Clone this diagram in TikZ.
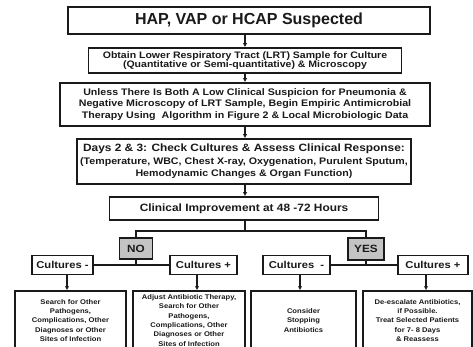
\documentclass[tikz,border=0pt]{standalone}
\usepackage{fontspec}
\setmainfont{Liberation Sans}
\newfontfamily\wfont[FakeStretch=1.12]{Liberation Sans}
\usetikzlibrary{arrows.meta}
\definecolor{ink}{HTML}{1A1A1A}
\definecolor{graybox}{HTML}{C4C4C4}
\tikzset{
  x=1pt,y=-1pt,
  box/.style={draw=ink,line width=1.7pt,fill=white,inner sep=1pt,align=center,text=ink,font=\bfseries},
  smallbox/.style={box,line width=1.5pt},
  conn/.style={draw=ink,line width=1.1pt},
  arr/.style={conn,-{Latex[length=4pt,width=4.5pt]}},
}
\begin{document}
\begin{tikzpicture}
\useasboundingbox (0,0) rectangle (473,347);
\clip (0,0) rectangle (473,347);
% main chain
\node[box,minimum width=362pt,minimum height=27pt,font=\bfseries\fontsize{16}{18}\selectfont] (b1) at (249,20.5) {HAP, VAP or HCAP Suspected};
\node[box,minimum width=313pt,minimum height=25pt,font=\wfont\bfseries\fontsize{9.4}{9.4}\selectfont] (b2) at (245,60.5) {Obtain Lower Respiratory Tract (LRT) Sample for Culture\\(Quantitative or Semi-quantitative) \& Microscopy};
\node[box,minimum width=370pt,minimum height=43pt,font=\wfont\bfseries\fontsize{9.5}{11.5}\selectfont] (b3) at (245,104.5) {Unless There Is Both A Low Clinical Suspicion for Pneumonia \&\\Negative Microscopy of LRT Sample, Begin Empiric Antimicrobial\\Therapy Using\ \ Algorithm in Figure 2 \& Local Microbiologic Data};
\node[box,minimum width=334pt,minimum height=45pt,font=\wfont\bfseries\fontsize{9.5}{12}\selectfont] (b4) at (244,161.5) {{\fontsize{10.6}{13}\selectfont Days 2 \& 3: Check Cultures \& Assess Clinical Response:}\\[1pt](Temperature, WBC, Chest X-ray, Oxygenation, Purulent Sputum,\\Hemodynamic Changes \& Organ Function)};
\node[box,minimum width=269pt,minimum height=23pt,font=\wfont\bfseries\fontsize{10.6}{13}\selectfont] (b5) at (244,208.5) {Clinical Improvement at 48 -72 Hours};
\draw[arr] (b1.south -| 245,0) -- (b2.north -| 245,0);
\draw[arr] (b2.south -| 245,0) -- (b3.north -| 245,0);
\draw[arr] (b3.south -| 245,0) -- (b4.north -| 245,0);
\draw[arr] (b4.south -| 245,0) -- (b5.north -| 245,0);
% NO / YES
\node[smallbox,fill=graybox,minimum width=33pt,minimum height=21pt,font=\wfont\bfseries\fontsize{10.5}{13}\selectfont] (no) at (136,248.5) {NO};
\node[smallbox,fill=graybox,minimum width=36pt,minimum height=22pt,font=\wfont\bfseries\fontsize{10.5}{13}\selectfont] (yes) at (366,249) {YES};
\coordinate (split) at (245,231);
\draw[conn] (b5.south -| split) -- (split);
\draw[conn] (no.north) |- (split) -| (yes.north);
% cultures
\tikzset{cult/.style={smallbox,minimum height=19pt,font=\wfont\bfseries\fontsize{10}{12}\selectfont}}
\node[cult,minimum width=61pt] (cln) at (62.5,265) {Cultures -};
\node[cult,minimum width=67pt] (clp) at (203.5,265) {Cultures +};
\node[cult,minimum width=67pt] (crn) at (296.5,265) {Cultures\ \ -};
\node[cult,minimum width=70pt] (crp) at (433,265) {Cultures +};
\draw[conn] (cln.east) -- (clp.west);
\draw[conn] (crn.east) -- (crp.west);
\draw[conn] (no.south) -- (no.south |- cln.east);
\draw[conn] (yes.south) -- (yes.south |- crn.east);
% bottom boxes
\tikzset{bot/.style={smallbox,minimum height=59pt,font=\wfont\bfseries\fontsize{6.8}{9.3}\selectfont}}
\node[bot,minimum width=111pt] (bl1) at (70.5,320.5) {Search for Other\\Pathogens,\\Complications, Other\\Diagnoses or Other\\Sites of Infection};
\node[bot,minimum width=112pt] (bl2) at (189,320.5) {Adjust Antibiotic Therapy,\\Search for Other\\Pathogens,\\Complications, Other\\Diagnoses or Other\\Sites of Infection};
\node[bot,minimum width=105pt] (br1) at (303.5,320.5) {Consider\\Stopping\\Antibiotics};
\node[bot,minimum width=109pt] (br2) at (417.5,320.5) {De-escalate Antibiotics,\\if Possible.\\Treat Selected Patients\\for 7- 8 Days\\\& Reassess};
\draw[arr] (cln.south -| 67,0) -- (bl1.north -| 67,0);
\draw[arr] (clp.south -| 197,0) -- (bl2.north -| 197,0);
\draw[arr] (crn.south -| 300,0) -- (br1.north -| 300,0);
\draw[arr] (crp.south -| 426,0) -- (br2.north -| 426,0);
\end{tikzpicture}
\end{document}
